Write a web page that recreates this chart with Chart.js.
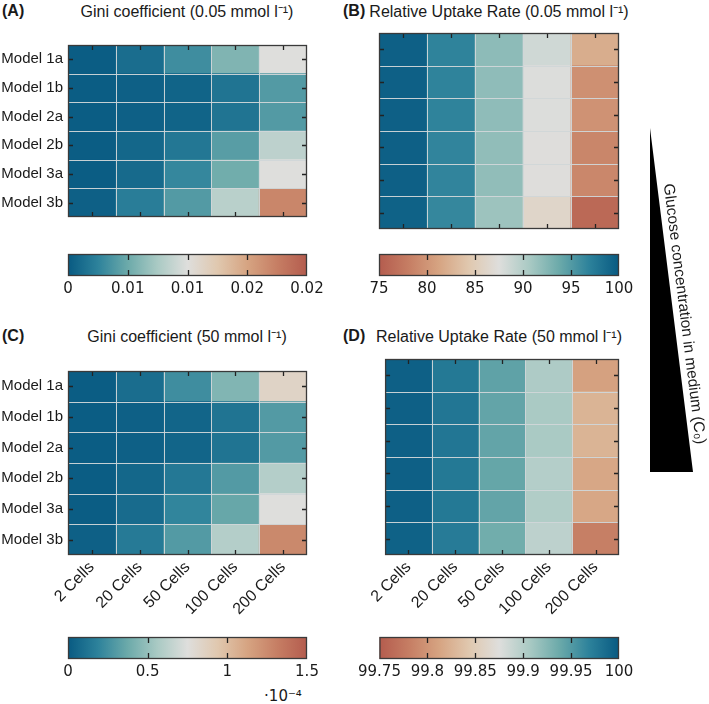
<!DOCTYPE html>
<html>
<head>
<meta charset="utf-8">
<script src="https://cdn.jsdelivr.net/npm/chart.js@4.4.0/dist/chart.umd.min.js"></script>
<style>
  body { margin: 0; background: #fff; width: 709px; height: 704px; position: relative; overflow: hidden;
         font-family: "Liberation Sans", Arial, sans-serif; color: #1a1a1a; }
  canvas { position: absolute; }
  .ttl { position: absolute; font-size: 16px; white-space: nowrap; transform: translate(-50%, -50%); }
  .lab { position: absolute; font-size: 16px; font-weight: bold; transform: translateY(-50%); }
  .exp { position: absolute; font-family: "DejaVu Sans", sans-serif; font-size: 15px; transform: translate(-50%, -50%); }
  svg { position: absolute; left: 0; top: 0; }
</style>
</head>
<body>
<div class="lab" style="left:2px;top:11px">(A)</div>
<div class="ttl" style="left:187px;top:11px">Gini coefficient (0.05 mmol l⁻¹)</div>
<div class="lab" style="left:343px;top:11px">(B)</div>
<div class="ttl" style="left:499px;top:11px">Relative Uptake Rate (0.05 mmol l⁻¹)</div>
<div class="lab" style="left:2px;top:336px">(C)</div>
<div class="ttl" style="left:187px;top:336px">Gini coefficient (50 mmol l⁻¹)</div>
<div class="lab" style="left:343px;top:336px">(D)</div>
<div class="ttl" style="left:499px;top:336px">Relative Uptake Rate (50 mmol l⁻¹)</div>
<div class="exp" style="left:283px;top:696px">·10⁻⁴</div>

<canvas id="heatA" width="310" height="200" style="left:0px;top:31px"></canvas>
<canvas id="heatB" width="252" height="200" style="left:370px;top:31px"></canvas>
<canvas id="heatC" width="310" height="260" style="left:0px;top:357px"></canvas>
<canvas id="heatD" width="252" height="260" style="left:370px;top:357px"></canvas>
<canvas id="barA" width="289" height="56" style="left:43px;top:250px"></canvas>
<canvas id="barB" width="290" height="56" style="left:354px;top:250px"></canvas>
<canvas id="barC" width="289" height="56" style="left:43px;top:633px"></canvas>
<canvas id="barD" width="290" height="56" style="left:354px;top:633px"></canvas>

<svg width="709" height="704">
  <polygon points="650,128 650,472 693,472" fill="#000"></polygon>
  <text x="684" y="314" transform="rotate(82.9 684 314)" text-anchor="middle" dominant-baseline="middle"
        font-family="Liberation Sans, Arial, sans-serif" font-size="15.5" fill="#1a1a1a">Glucose concentration in medium (C₀)</text>
</svg>

<script>
// categories
const cellLabels = ["2 Cells", "20 Cells", "50 Cells", "100 Cells", "200 Cells"];
const modelLabels = ["Model 1a", "Model 1b", "Model 2a", "Model 2b", "Model 3a", "Model 3b"];

// (A) Gini coefficient, 0.05 mmol/l  (one row per model)
const giniLow = [
  [0.0002, 0.0012, 0.0032, 0.0058, 0.0100],
  [0.0002, 0.0004, 0.0006, 0.0016, 0.0040],
  [0.0002, 0.0004, 0.0006, 0.0016, 0.0040],
  [0.0002, 0.0008, 0.0018, 0.0042, 0.0084],
  [0.0002, 0.0010, 0.0028, 0.0052, 0.0100],
  [0.0004, 0.0022, 0.0040, 0.0082, 0.0170]
];
// (B) relative uptake rate (%), 0.05 mmol/l
const uptakeLow = [
  [99.5, 96.8, 92.1, 88.4, 82.0],
  [99.5, 96.8, 92.0, 87.6, 79.6],
  [99.5, 96.8, 92.0, 87.6, 79.8],
  [99.5, 96.7, 91.9, 87.4, 78.8],
  [99.5, 96.7, 91.9, 87.4, 78.9],
  [99.4, 96.5, 91.3, 86.2, 76.2]
];
// (C) Gini coefficient, 50 mmol/l  (x 1e-4)
const giniHigh = [
  [0.015, 0.09, 0.24, 0.44, 0.84],
  [0.015, 0.03, 0.05, 0.12, 0.30],
  [0.015, 0.03, 0.05, 0.12, 0.30],
  [0.015, 0.06, 0.14, 0.30, 0.60],
  [0.015, 0.08, 0.20, 0.36, 0.75],
  [0.03, 0.15, 0.30, 0.60, 1.26]
];
// (D) relative uptake rate (%), 50 mmol/l
const uptakeHigh = [
  [99.995, 99.976, 99.944, 99.904, 99.810],
  [99.995, 99.978, 99.942, 99.906, 99.826],
  [99.995, 99.978, 99.942, 99.906, 99.826],
  [99.995, 99.976, 99.941, 99.900, 99.815],
  [99.995, 99.976, 99.942, 99.902, 99.815],
  [99.994, 99.974, 99.935, 99.895, 99.782]
];

// colour bar ticks
const ticksA = [0, 0.005, 0.01, 0.015, 0.02];
const tickLabelsA = ["0", "0.01", "0.01", "0.02", "0.02"];
const ticksB = [75, 80, 85, 90, 95, 100];
const tickLabelsB = ["75", "80", "85", "90", "95", "100"];
const ticksC = [0, 0.5, 1, 1.5];
const tickLabelsC = ["0", "0.5", "1", "1.5"];
const ticksD = [99.75, 99.8, 99.85, 99.9, 99.95, 100];
const tickLabelsD = ["99.75", "99.8", "99.85", "99.9", "99.95", "100"];

// diverging colormap blue -> grey -> red
const cmap = [
  [0.000, [8, 90, 130]],
  [0.125, [45, 130, 155]],
  [0.250, [108, 170, 170]],
  [0.375, [170, 202, 196]],
  [0.500, [222, 222, 220]],
  [0.625, [224, 200, 175]],
  [0.750, [214, 164, 130]],
  [0.875, [198, 126, 100]],
  [1.000, [180, 92, 78]]
];

function colorAt(t) {
  t = Math.max(0, Math.min(1, t));
  for (let i = 1; i < cmap.length; i++) {
    if (t <= cmap[i][0]) {
      const [t0, c0] = cmap[i - 1], [t1, c1] = cmap[i];
      const f = (t - t0) / (t1 - t0);
      const c = c0.map((v, k) => Math.round(v + (c1[k] - v) * f));
      return "rgb(" + c.join(",") + ")";
    }
  }
  return "rgb(" + cmap[cmap.length - 1][1].join(",") + ")";
}

// frame, cell separators and inward ticks of a heatmap
const heatFrame = {
  id: "heatFrame",
  afterDatasetsDraw(chart) {
    const { ctx, chartArea: a, scales: { x, y } } = chart;
    ctx.save();
    ctx.strokeStyle = "rgba(208,214,216,0.95)";
    ctx.lineWidth = 1;
    ctx.beginPath();
    for (let i = 1; i < cellLabels.length; i++) {
      const px = Math.round((x.getPixelForValue(i - 1) + x.getPixelForValue(i)) / 2) + 0.5;
      ctx.moveTo(px, a.top); ctx.lineTo(px, a.bottom);
    }
    for (let j = 1; j < modelLabels.length; j++) {
      const py = Math.round(y.getPixelForValue(j)) + 0.5;
      ctx.moveTo(a.left, py); ctx.lineTo(a.right, py);
    }
    ctx.stroke();
    ctx.strokeStyle = "#222";
    ctx.lineWidth = 1.3;
    ctx.beginPath();
    cellLabels.forEach((c, i) => {
      const px = Math.round(x.getPixelForValue(i)) + 0.5;
      ctx.moveTo(px, a.top); ctx.lineTo(px, a.top + 5);
      ctx.moveTo(px, a.bottom); ctx.lineTo(px, a.bottom - 5);
    });
    modelLabels.forEach((m, j) => {
      const py = Math.round(y.getPixelForValue(j + 0.5)) + 0.5;
      ctx.moveTo(a.left, py); ctx.lineTo(a.left + 5, py);
      ctx.moveTo(a.right, py); ctx.lineTo(a.right - 5, py);
    });
    ctx.stroke();
    ctx.strokeStyle = "#3a3a3a";
    ctx.lineWidth = 1.3;
    ctx.strokeRect(a.left + 0.5, a.top + 0.5, a.width - 1, a.height - 1);
    ctx.restore();
  }
};

function makeHeatmap(id, values, vmin, vmax, reversed, showY, showX) {
  const datasets = [];
  // stacked from the bottom: last model first
  for (let k = modelLabels.length - 1; k >= 0; k--) {
    datasets.push({
      label: modelLabels[k],
      data: cellLabels.map(() => 1),
      backgroundColor: values[k].map(v => {
        let t = (v - vmin) / (vmax - vmin);
        if (reversed) t = 1 - t;
        return colorAt(t);
      }),
      borderWidth: 0,
      barPercentage: 1,
      categoryPercentage: 1
    });
  }
  new Chart(document.getElementById(id), {
    type: "bar",
    data: { labels: cellLabels, datasets: datasets },
    options: {
      responsive: false,
      animation: false,
      layout: { padding: { top: 2, right: 3, left: 0, bottom: 0 } },
      plugins: { legend: { display: false }, tooltip: { enabled: false } },
      scales: {
        x: {
          stacked: true,
          grid: { display: false, drawTicks: false },
          border: { display: false },
          ticks: {
            display: showX, autoSkip: false, minRotation: 45, maxRotation: 45, padding: 3,
            color: "#1a1a1a", font: { family: "Liberation Sans", size: 16 }
          },
          afterFit: s => { s.height = showX ? 62 : 2; }
        },
        y: {
          stacked: true,
          min: 0,
          max: modelLabels.length,
          grid: { display: false, drawTicks: false },
          border: { display: false },
          afterBuildTicks: s => { s.ticks = modelLabels.map((m, j) => ({ value: j + 0.5 })); },
          ticks: {
            display: showY, padding: 5, color: "#1a1a1a",
            font: { family: "Liberation Sans", size: 15 },
            callback: (v, i) => modelLabels[modelLabels.length - 1 - i]
          },
          afterFit: s => { s.width = showY ? 68 : 9; }
        }
      }
    },
    plugins: [heatFrame]
  });
}

// frame and inner ticks of a colour bar
const barFrame = {
  id: "barFrame",
  afterDatasetsDraw(chart) {
    const { ctx, chartArea: a, scales: { x } } = chart;
    ctx.save();
    ctx.strokeStyle = "#222";
    ctx.lineWidth = 1.3;
    ctx.beginPath();
    x.ticks.slice(1, -1).forEach(t => {
      const px = Math.round(x.getPixelForValue(t.value)) + 0.5;
      ctx.moveTo(px, a.top); ctx.lineTo(px, a.top + 6);
      ctx.moveTo(px, a.bottom); ctx.lineTo(px, a.bottom - 6);
    });
    ctx.stroke();
    ctx.strokeStyle = "#3a3a3a";
    ctx.strokeRect(a.left + 0.5, a.top + 0.5, a.width - 1, a.height - 1);
    ctx.restore();
  }
};

function makeColorbar(id, vmin, vmax, tickVals, tickLabels, reversed) {
  new Chart(document.getElementById(id), {
    type: "bar",
    data: {
      labels: [""],
      datasets: [{
        data: [[vmin, vmax]],
        backgroundColor: c => {
          const a = c.chart.chartArea;
          if (!a) return "#ccc";
          const g = c.chart.ctx.createLinearGradient(a.left, 0, a.right, 0);
          cmap.forEach(([s, col]) => g.addColorStop(reversed ? 1 - s : s, "rgb(" + col.join(",") + ")"));
          return g;
        },
        borderWidth: 0,
        barPercentage: 1,
        categoryPercentage: 1
      }]
    },
    options: {
      indexAxis: "y",
      responsive: false,
      animation: false,
      layout: { padding: { top: 4, left: 25, right: 25, bottom: 0 } },
      plugins: { legend: { display: false }, tooltip: { enabled: false } },
      scales: {
        y: { display: false },
        x: {
          type: "linear",
          min: vmin,
          max: vmax,
          grid: { display: false, drawTicks: false },
          border: { display: false },
          afterBuildTicks: s => { s.ticks = tickVals.map(v => ({ value: v })); },
          ticks: {
            autoSkip: false, maxRotation: 0, padding: 4, color: "#1a1a1a",
            font: { family: "DejaVu Sans", size: 15 },
            callback: (v, i) => tickLabels[i]
          },
          afterFit: s => { s.height = 30; }
        }
      }
    },
    plugins: [barFrame]
  });
}

makeHeatmap("heatA", giniLow, 0, 0.02, false, true, false);
makeHeatmap("heatB", uptakeLow, 75, 100, true, false, false);
makeHeatmap("heatC", giniHigh, 0, 1.5, false, true, true);
makeHeatmap("heatD", uptakeHigh, 99.75, 100, true, false, true);

makeColorbar("barA", 0, 0.02, ticksA, tickLabelsA, false);
makeColorbar("barB", 75, 100, ticksB, tickLabelsB, true);
makeColorbar("barC", 0, 1.5, ticksC, tickLabelsC, false);
makeColorbar("barD", 99.75, 100, ticksD, tickLabelsD, true);
</script>
</body>
</html>
